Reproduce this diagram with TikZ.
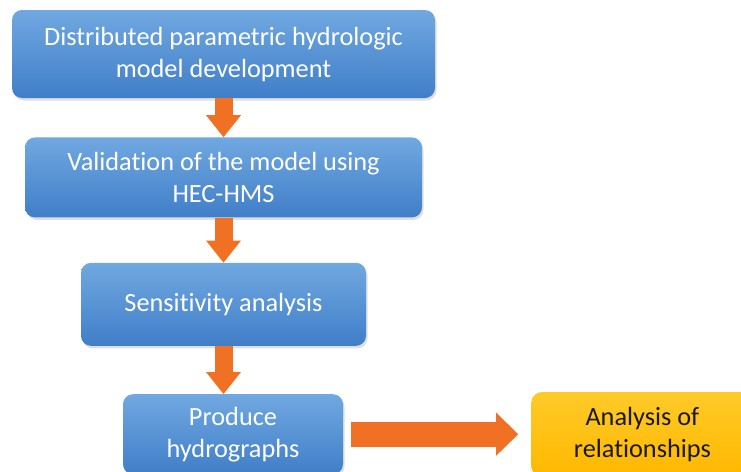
\documentclass[tikz,border=0pt]{standalone}
\usepackage{fontspec}
\setmainfont{Carlito}[Ligatures=NoCommon]
\usetikzlibrary{arrows.meta,positioning,shadows}

\definecolor{stagetop}{RGB}{112,168,224}
\definecolor{stagebot}{RGB}{64,126,200}
\definecolor{goldtop}{RGB}{255,202,40}
\definecolor{goldbot}{RGB}{255,184,0}
\definecolor{flow}{RGB}{240,112,36}

\begin{document}
\begin{tikzpicture}[
  x=1pt, y=1pt,
  font=\fontsize{26.3}{32}\selectfont,
  stage/.style={
    rounded corners=10pt,
    top color=stagetop,
    bottom color=stagebot,
    text=white,
    align=center,
    inner sep=0pt,
    drop shadow={shadow xshift=1.5pt, shadow yshift=-2.5pt, opacity=0.25}
  },
  result/.style={
    stage,
    top color=goldtop,
    bottom color=goldbot,
    text=black!90
  },
  flowline/.style={
    draw=flow,
    line width=18pt,
    -{Triangle[length=22pt, width=35pt 0, line width=0pt]}
  }
]
\useasboundingbox (0,0) rectangle (741,-471);

\node[stage, minimum width=423pt, minimum height=88pt] (model) at (223.5,-54)
  {Distributed parametric hydrologic\\model development};
\node[stage, minimum width=397pt, minimum height=80pt, below=39pt of model] (valid)
  {Validation of the model using\\HEC-HMS};
\node[stage, minimum width=285pt, minimum height=83pt, below=45pt of valid] (sens)
  {Sensitivity analysis};
\node[stage, minimum width=220pt, minimum height=80pt, below=48pt of sens, xshift=9.5pt] (hydro)
  {Produce\\hydrographs};
\node[result, minimum width=222pt, minimum height=84pt, right=188pt of hydro] (relate)
  {Analysis of\\relationships};

\draw[flowline] (model) -- (valid);
\draw[flowline] (valid.south) -- (valid.south |- sens.north);
\draw[flowline] (sens.south) -- (sens.south |- hydro.north);
\draw[flowline, line width=25pt, shorten <=8pt, shorten >=13pt,
  -{Triangle[length=22pt, width=43pt 0, line width=0pt]}] (hydro) -- (relate);

\end{tikzpicture}
\end{document}
